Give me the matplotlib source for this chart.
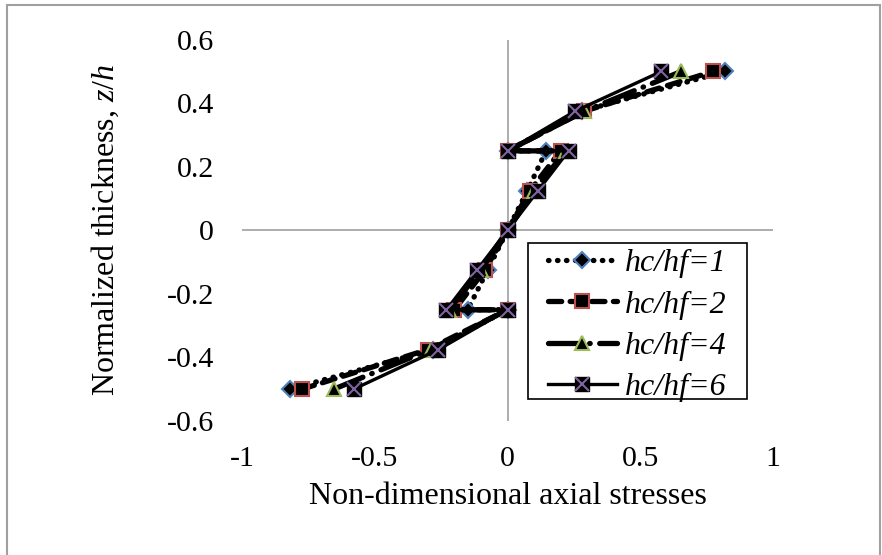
import matplotlib
matplotlib.use("Agg")
import matplotlib.pyplot as plt
from matplotlib.patches import Rectangle
from matplotlib.legend_handler import HandlerTuple

plt.rcParams['font.family'] = ['Liberation Serif', 'DejaVu Serif']
plt.rcParams['mathtext.fontset'] = 'custom'
plt.rcParams['mathtext.it'] = 'Liberation Serif:italic'
plt.rcParams['mathtext.rm'] = 'Liberation Serif'

# normalized thickness z/h (interfaces at +-0.25 appear twice)
z = [-0.5, -0.375, -0.25, -0.25, -0.125, 0, 0.125, 0.25, 0.25, 0.375, 0.5]

# non-dimensional axial stresses for each hc/hf ratio
s1 = [-0.82, -0.28, 0, -0.15, -0.075, 0, 0.075, 0.145, 0, 0.28, 0.82]
s2 = [-0.775, -0.30, 0, -0.20, -0.085, 0, 0.085, 0.20, 0, 0.29, 0.775]
s3 = [-0.655, -0.29, 0, -0.22, -0.10, 0, 0.10, 0.22, 0, 0.29, 0.655]
s4 = [-0.58, -0.26, 0, -0.23, -0.115, 0, 0.115, 0.23, 0, 0.255, 0.58]

labels = ['hc/hf=1', 'hc/hf=2', 'hc/hf=4', 'hc/hf=6']
xticks = [-1, -0.5, 0, 0.5, 1]
xticklabels = ['-1', '-0.5', '0', '0.5', '1']
yticks = [-0.6, -0.4, -0.2, 0, 0.2, 0.4, 0.6]
yticklabels = ['-0.6', '-0.4', '-0.2', '0', '0.2', '0.4', '0.6']

W, H = 882, 555
fig = plt.figure(figsize=(8.82, 5.55), dpi=100)
ax = fig.add_axes([0.2744, 0.2414, 0.6020, 0.6872])

ax.axhline(0, color='#a0a0a0', lw=1.2, zorder=1)
ax.axvline(0, color='#a0a0a0', lw=1.2, zorder=1)

l1, = ax.plot(s1, z, color='black', lw=3.8, linestyle=(0, (0.1, 1.6)),
              dash_capstyle='round', marker='D', markersize=8.5,
              markerfacecolor='black', markeredgecolor='#4f81bd', markeredgewidth=1.5, zorder=3)
l2, = ax.plot(s2, z, color='black', lw=3.8, linestyle=(0, (2.5, 1.6)),
              dash_capstyle='round', marker='s', markersize=9.5,
              markerfacecolor='black', markeredgecolor='#c0504d', markeredgewidth=1.5, zorder=4)
l3, = ax.plot(s3, z, color='black', lw=3.8, linestyle=(0, (6, 1.8, 0.1, 1.8)),
              dash_capstyle='round', marker='^', markersize=9.5,
              markerfacecolor='black', markeredgecolor='#9bbb59', markeredgewidth=1.5, zorder=5)
l4, = ax.plot(s4, z, color='black', lw=2.4, linestyle='-',
              marker='s', markersize=10.5, markerfacecolor='black',
              markeredgecolor='black', zorder=6)
l4x, = ax.plot(s4, z, linestyle='none', marker='x', markersize=9.5,
               markeredgecolor='#8064a2', markeredgewidth=1.5, zorder=7)

ax.set_xlim(-1, 1)
ax.set_ylim(-0.6, 0.6)
ax.set_xticks(xticks)
ax.set_xticklabels(xticklabels)
ax.set_yticks(yticks)
ax.set_yticklabels(yticklabels)
ax.tick_params(axis='both', length=0, labelsize=21.5)
ax.tick_params(axis='x', pad=18)
ax.tick_params(axis='y', pad=20)
for sp in ax.spines.values():
    sp.set_visible(False)

ax.set_xlabel('Non-dimensional axial stresses', fontsize=23)
ax.xaxis.set_label_coords(0.5, -0.16)
ax.set_ylabel(r'Normalized thickness, $\mathit{z/h}$', fontsize=23)
ax.yaxis.set_label_coords(-0.228, 0.5)

# legend frame drawn by hand so the padding matches
box = Rectangle((528 / W, 1 - 399 / H), 219 / W, 156 / H, transform=fig.transFigure,
                facecolor='white', edgecolor='black', lw=1.2, zorder=8, clip_on=False)
ax.add_patch(box)

leg = ax.legend([l1, l2, l3, (l4, l4x)], labels,
                handler_map={tuple: HandlerTuple(ndivide=1)},
                loc='upper left', bbox_to_anchor=(548 / W, 1 - 249 / H),
                bbox_transform=fig.transFigure, borderaxespad=0,
                prop={'family': 'Liberation Serif', 'style': 'italic', 'size': 23},
                frameon=False, handlelength=2.15, handletextpad=0.25,
                labelspacing=0.37, borderpad=0)
leg.set_zorder(9)

fig.patches.append(Rectangle((0.008, -0.02), 0.99, 1.011, transform=fig.transFigure,
                             fill=False, edgecolor='#a0a0a0', lw=1.5))

fig.savefig('out.png', dpi=100)
